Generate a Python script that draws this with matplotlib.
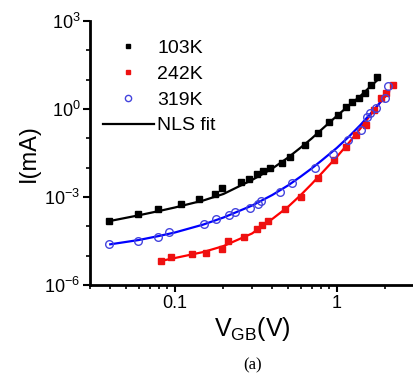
import matplotlib
matplotlib.use('Agg')
import matplotlib.pyplot as plt
from matplotlib.lines import Line2D
from matplotlib.ticker import LogLocator, FixedLocator, NullFormatter

plt.rcParams['font.family'] = ['Liberation Sans', 'DejaVu Sans']
plt.rcParams['mathtext.fontset'] = 'custom'
plt.rcParams['mathtext.rm'] = 'Liberation Sans'

# measured points
v_103 = [0.0394, 0.0592, 0.0787, 0.109, 0.142, 0.177, 0.197, 0.257, 0.288, 0.321, 0.353, 0.389,
         0.459, 0.513, 0.633, 0.769, 0.902, 1.02, 1.14, 1.25, 1.37, 1.49, 1.62, 1.77]
i_103 = [1.52e-4, 2.57e-4, 3.98e-4, 5.6e-4, 8.5e-4, 1.24e-3, 1.98e-3, 3.17e-3, 4.0e-3, 5.9e-3, 7.9e-3, 9.5e-3,
         0.0148, 0.024, 0.0607, 0.152, 0.347, 0.649, 1.14, 1.69, 2.37, 3.5, 6.6, 12.8]

v_242 = [0.0818, 0.0953, 0.127, 0.157, 0.197, 0.214, 0.269, 0.324, 0.345, 0.376, 0.477, 0.600,
         0.770, 0.962, 1.14, 1.32, 1.51, 1.71, 1.88, 2.02, 2.24]
i_242 = [6.6e-6, 8.8e-6, 1.11e-5, 1.26e-5, 1.75e-5, 3.16e-5, 4.4e-5, 7.9e-5, 1.08e-4, 1.56e-4, 3.9e-4, 9.8e-4,
         4.6e-3, 0.0182, 0.0527, 0.13, 0.285, 0.925, 2.32, 3.5, 6.6]

v_319 = [0.0394, 0.0591, 0.0787, 0.0918, 0.152, 0.179, 0.217, 0.236, 0.292, 0.326, 0.340, 0.449,
         0.530, 0.733, 0.942, 1.17, 1.41, 1.53, 1.61, 1.74, 2.0, 2.07]
i_319 = [2.45e-5, 3.2e-5, 4.4e-5, 6.3e-5, 1.17e-4, 1.74e-4, 2.43e-4, 3.0e-4, 4.3e-4, 5.9e-4, 7.5e-4, 1.45e-3,
         2.9e-3, 9.5e-3, 0.0292, 0.0877, 0.197, 0.533, 0.76, 1.12, 2.37, 6.3]

# NLS fit curves
fit_v = [0.04, 0.06, 0.08, 0.1, 0.15, 0.2, 0.3, 0.4, 0.5, 0.6, 0.7, 0.8, 1.0, 1.2, 1.4, 1.6, 1.8]
fit_103 = [1.53e-4, 2.38e-4, 3.33e-4, 4.38e-4, 7.6e-4, 1.27e-3, 3.8e-3, 9.3e-3, 0.022, 0.0487, 0.0986, 0.192,
           0.577, 1.37, 2.77, 5.6, 10.1]
fit_v_242 = [0.082, 0.1, 0.15, 0.2, 0.3, 0.4, 0.5, 0.6, 0.7, 0.8, 1.0, 1.2, 1.4, 1.6, 1.8, 2.0, 2.1]
fit_242 = [6.6e-6, 8.3e-6, 1.33e-5, 2.13e-5, 5.7e-5, 1.78e-4, 4.6e-4, 1.17e-3, 2.77e-3, 6.1e-3, 0.0231, 0.075,
           0.216, 0.577, 1.37, 3.0, 4.1]
fit_v_319 = [0.04, 0.06, 0.08, 0.1, 0.15, 0.2, 0.3, 0.4, 0.5, 0.6, 0.7, 0.8, 1.0, 1.2, 1.4, 1.6, 1.8, 2.1]
fit_319 = [2.44e-5, 3.42e-5, 4.7e-5, 6.15e-5, 1.15e-4, 2.0e-4, 5.1e-4, 1.17e-3, 2.47e-3, 5.0e-3, 9.4e-3, 0.0169,
           0.0468, 0.12, 0.285, 0.649, 1.37, 3.8]

fig = plt.figure(figsize=(4.14, 3.82), dpi=100)
ax = fig.add_axes([0.2174, 0.2539, 0.7826, 0.6911])

ax.plot(fit_v, fit_103, color='black', lw=1.6, zorder=2)
ax.plot(fit_v_242, fit_242, color='#ff0000', lw=1.6, zorder=2)
ax.plot(fit_v_319, fit_319, color='#0000ff', lw=1.6, zorder=2)

ax.plot(v_103, i_103, 's', color='black', ms=4.5, zorder=3)
ax.plot(v_242, i_242, 's', color='#ee1111', ms=4.5, zorder=3)
ax.plot(v_319, i_319, 'o', mfc='none', mec='#4444dd', mew=1.0, ms=5.5, zorder=3)

ax.set_xscale('log')
ax.set_yscale('log')
ax.set_xlim(0.03, 3)
ax.set_ylim(1e-6, 1e3)

ax.xaxis.set_major_locator(FixedLocator([0.1, 1]))
ax.set_xticklabels(['0.1', '1'])
ax.xaxis.set_minor_locator(LogLocator(base=10, subs=range(2, 10), numticks=20))
ax.xaxis.set_minor_formatter(NullFormatter())
ax.yaxis.set_major_locator(FixedLocator([1e-6, 1e-3, 1e0, 1e3]))
ax.set_yticklabels(['10$^{-6}$', '10$^{-3}$', '10$^{0}$', '10$^{3}$'])
ax.yaxis.set_minor_locator(FixedLocator([1e-5, 1e-4, 1e-2, 1e-1, 1e1, 1e2]))
ax.yaxis.set_minor_formatter(NullFormatter())

for s in ['top', 'right']:
    ax.spines[s].set_visible(False)
for s in ['left', 'bottom']:
    ax.spines[s].set_linewidth(2)
ax.tick_params(which='major', direction='out', length=5, width=1.5, labelsize=13, pad=2)
ax.tick_params(which='minor', direction='out', length=3, width=1.2)

ax.set_ylabel('I(mA)', fontsize=17, labelpad=3)
ax.set_xlabel(r'V$_{\mathregular{GB}}$(V)', fontsize=18, labelpad=2)

handles = [
    Line2D([], [], ls='none', marker='s', color='black', ms=3.5),
    Line2D([], [], ls='none', marker='s', color='#ee1111', ms=3.5),
    Line2D([], [], ls='none', marker='o', mfc='none', mec='#4444dd', ms=4.5),
    Line2D([], [], color='black', lw=1.6),
]
ax.legend(handles, ['103K', '242K', '319K', 'NLS fit'], loc='upper left',
          bbox_to_anchor=(0.04, 0.93), frameon=False, fontsize=14,
          handlelength=2.6, handletextpad=0.2, labelspacing=0.42,
          borderpad=0, borderaxespad=0)

fig.text(0.61, 0.043, '(a)', fontsize=12, family=['Liberation Serif', 'DejaVu Serif'],
         ha='center', va='center')

fig.savefig('out.png', dpi=100)
